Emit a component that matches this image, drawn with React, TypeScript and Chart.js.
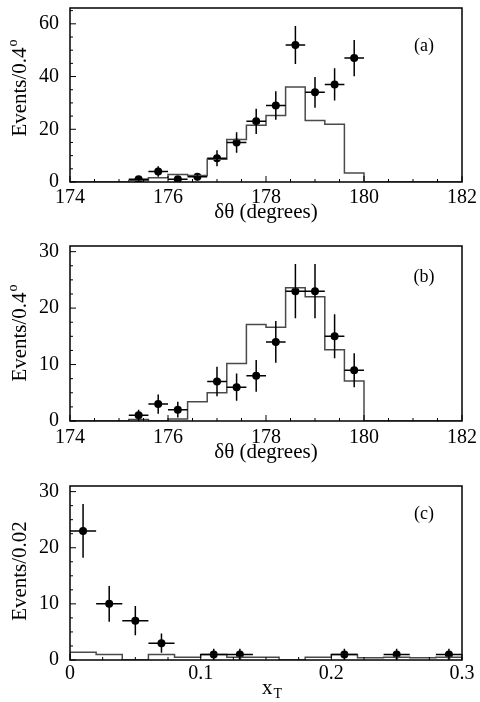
import { useEffect, useRef } from "react";
import { Chart, registerables } from "chart.js";

Chart.register(...registerables);

const FONT = "'Liberation Serif', 'Times New Roman', serif";

// ---- panel (a) ----
const edgesA = [175.2, 175.6, 176.0, 176.4, 176.8, 177.2, 177.6, 178.0, 178.4, 178.8, 179.2, 179.6, 180.0];
const histA = [0.6, 1.6, 2.8, 2.5, 8.6, 16.1, 21.5, 25.2, 36.0, 23.3, 21.9, 3.4];
const ptsXA = [175.4, 175.8, 176.2, 176.6, 177.0, 177.4, 177.8, 178.2, 178.6, 179.0, 179.4, 179.8];
const ptsYA = [1, 4, 1, 2, 9, 15, 23, 29, 52, 34, 37, 47];
const errA = [1, 2, 1, 1.4, 3, 3.9, 4.8, 5.4, 7.2, 5.8, 6.1, 6.9];
const xTicksA = [174, 176, 178, 180, 182];
const yTicksA = [0, 20, 40, 60];

// ---- panel (b) ----
const edgesB = [175.2, 175.6, 176.0, 176.4, 176.8, 177.2, 177.6, 178.0, 178.4, 178.8, 179.2, 179.6, 180.0];
const histB = [0.25, 0, 0.35, 3.4, 5.0, 10.2, 17.1, 16.6, 23.6, 22.0, 12.6, 7.1];
const ptsXB = [175.4, 175.8, 176.2, 177.0, 177.4, 177.8, 178.2, 178.6, 179.0, 179.4, 179.8];
const ptsYB = [1, 3, 2, 7, 6, 8, 14, 23, 23, 15, 9];
const errB = [1, 1.7, 1.4, 2.6, 2.4, 2.8, 3.7, 4.8, 4.8, 3.9, 3];
const xTicksB = [174, 176, 178, 180, 182];
const yTicksB = [0, 10, 20, 30];

// ---- panel (c) ----
const edgesC = [0, 0.02, 0.04, 0.06, 0.08, 0.1, 0.12, 0.14, 0.16, 0.18, 0.2, 0.22, 0.24, 0.26, 0.28, 0.3];
const histC = [1.4, 1.0, 0, 1.0, 0.5, 1.0, 0.5, 0.5, 0, 0.5, 1.0, 0.4, 0.5, 0.4, 0.5];
const ptsXC = [0.01, 0.03, 0.05, 0.07, 0.11, 0.13, 0.21, 0.25, 0.29];
const ptsYC = [23, 10, 7, 3, 1, 1, 1, 1, 1];
const errC = [4.8, 3.2, 2.6, 1.7, 1, 1, 1, 1, 1];
const xTicksC = [0, 0.1, 0.2, 0.3];
const yTicksC = [0, 10, 20, 30];

type PanelDef = {
  id: string;
  top: number;
  height: number;
  areaTop: number;
  areaBottom: number;
  xMin: number;
  xMax: number;
  yMax: number;
  xMinor: number;
  yMinor: number;
  xTicks: number[];
  yTicks: number[];
  edges: number[];
  hist: number[];
  px: number[];
  py: number[];
  ey: number[];
  ex: number;
  yTitle: string;
  ySup: string;
  yTitleY: number;
  xTitle: string;
  xSub: string;
  xTitleY: number;
  tickPad: number;
  label: string;
  labelY: number;
};

const panels: PanelDef[] = [
  {
    id: "a", top: 0, height: 232, areaTop: 8, areaBottom: 182,
    xMin: 174, xMax: 182, yMax: 66, xMinor: 0.5, yMinor: 5,
    xTicks: xTicksA, yTicks: yTicksA, edges: edgesA, hist: histA,
    px: ptsXA, py: ptsYA, ey: errA, ex: 0.2,
    yTitle: "Events/0.4", ySup: "o", yTitleY: 88,
    xTitle: "δθ (degrees)", xSub: "", xTitleY: 212, tickPad: 4,
    label: "(a)", labelY: 46,
  },
  {
    id: "b", top: 232, height: 236, areaTop: 246, areaBottom: 421,
    xMin: 174, xMax: 182, yMax: 31, xMinor: 0.5, yMinor: 2.5,
    xTicks: xTicksB, yTicks: yTicksB, edges: edgesB, hist: histB,
    px: ptsXB, py: ptsYB, ey: errB, ex: 0.2,
    yTitle: "Events/0.4", ySup: "o", yTitleY: 333,
    xTitle: "δθ (degrees)", xSub: "", xTitleY: 452, tickPad: 5,
    label: "(b)", labelY: 277,
  },
  {
    id: "c", top: 468, height: 234, areaTop: 486, areaBottom: 660,
    xMin: 0, xMax: 0.3, yMax: 31, xMinor: 0.025, yMinor: 2.5,
    xTicks: xTicksC, yTicks: yTicksC, edges: edgesC, hist: histC,
    px: ptsXC, py: ptsYC, ey: errC, ex: 0.01,
    yTitle: "Events/0.02", ySup: "", yTitleY: 571,
    xTitle: "x", xSub: "T", xTitleY: 688, tickPad: 2,
    label: "(c)", labelY: 514,
  },
];

// frame, inward ticks, error bars and the text ROOT-style
const hepPlugin = {
  id: "hep",
  afterDatasetsDraw(chart: any, _args: any, o: any) {
    const { ctx, chartArea: ar } = chart;
    const xs = chart.scales.x;
    const ys = chart.scales.y;
    ctx.save();
    ctx.strokeStyle = "#000";
    ctx.fillStyle = "#000";

    // error bars
    ctx.lineWidth = 1.5;
    ctx.beginPath();
    o.px.forEach((xv: number, i: number) => {
      const cx = xs.getPixelForValue(xv);
      const cy = ys.getPixelForValue(o.py[i]);
      ctx.moveTo(xs.getPixelForValue(xv - o.ex), cy);
      ctx.lineTo(xs.getPixelForValue(xv + o.ex), cy);
      ctx.moveTo(cx, ys.getPixelForValue(o.py[i] + o.ey[i]));
      ctx.lineTo(cx, ys.getPixelForValue(Math.max(0, o.py[i] - o.ey[i])));
    });
    ctx.stroke();

    // frame
    ctx.lineWidth = 1.5;
    ctx.strokeRect(ar.left, ar.top, ar.right - ar.left, ar.bottom - ar.top);

    // ticks
    const isMajor = (list: number[], v: number) => list.some((t) => Math.abs(t - v) < 1e-6);
    ctx.lineWidth = 1;
    ctx.beginPath();
    for (let k = 0; ; k++) {
      const v = o.xMin + k * o.xMinor;
      if (v > o.xMax + 1e-9) break;
      const p = xs.getPixelForValue(v);
      ctx.moveTo(p, ar.bottom);
      ctx.lineTo(p, ar.bottom - (isMajor(o.xTicks, v) ? 6 : 3));
    }
    for (let k = 0; ; k++) {
      const v = k * o.yMinor;
      if (v > o.yMax + 1e-9) break;
      const p = ys.getPixelForValue(v);
      ctx.moveTo(ar.left, p);
      ctx.lineTo(ar.left + (isMajor(o.yTicks, v) ? 6 : 3), p);
    }
    ctx.stroke();

    // y title, rotated, with optional superscript
    ctx.textBaseline = "middle";
    ctx.textAlign = "left";
    ctx.save();
    ctx.translate(20, o.yTitleY);
    ctx.rotate(-Math.PI / 2);
    ctx.font = `21px ${FONT}`;
    const w1 = ctx.measureText(o.yTitle).width;
    ctx.font = `14px ${FONT}`;
    const w2 = o.ySup ? ctx.measureText(o.ySup).width + 1 : 0;
    const x0 = -(w1 + w2) / 2;
    ctx.font = `21px ${FONT}`;
    ctx.fillText(o.yTitle, x0, 0);
    if (o.ySup) {
      ctx.font = `14px ${FONT}`;
      ctx.fillText(o.ySup, x0 + w1 + 1, -7);
    }
    ctx.restore();

    // x title with optional subscript
    const cxT = (ar.left + ar.right) / 2;
    ctx.font = `21px ${FONT}`;
    const t1 = ctx.measureText(o.xTitle).width;
    ctx.font = `14px ${FONT}`;
    const t2 = o.xSub ? ctx.measureText(o.xSub).width + 1 : 0;
    const tx = cxT - (t1 + t2) / 2 + (o.xSub ? 6 : 0);
    ctx.font = `21px ${FONT}`;
    ctx.fillText(o.xTitle, tx, o.xTitleY);
    if (o.xSub) {
      ctx.font = `14px ${FONT}`;
      ctx.fillText(o.xSub, tx + t1 + 1, o.xTitleY + 6);
    }

    // panel label
    ctx.font = `18px ${FONT}`;
    ctx.textAlign = "center";
    ctx.fillText(o.label, 424, o.labelY);
    ctx.restore();
  },
};

const Panel = ({ p }: { p: PanelDef }) => {
  const canvasRef: any = useRef(null);

  useEffect(() => {
    const ctx = canvasRef.current.getContext("2d");

    const histPoints = [
      { x: p.xMin, y: 0 },
      ...p.hist.map((v, i) => ({ x: p.edges[i], y: v })),
      { x: p.edges[p.edges.length - 1], y: 0 },
      { x: p.xMax, y: 0 },
    ];
    const dataPoints = p.px.map((x, i) => ({ x, y: p.py[i] }));

    const theChart = new Chart(ctx, {
      type: "scatter",
      data: {
        datasets: [
          {
            type: "line",
            data: histPoints,
            stepped: true,
            borderColor: "#4a4a4a",
            borderWidth: 1.5,
            pointRadius: 0,
            fill: false,
          } as any,
          {
            data: dataPoints,
            pointRadius: 4,
            pointBorderWidth: 0,
            backgroundColor: "#000",
            borderColor: "#000",
          },
        ],
      },
      plugins: [hepPlugin],
      options: {
        animation: false,
        responsive: false,
        events: [],
        layout: {
          padding: { left: 0, right: 18, top: p.areaTop - p.top, bottom: 0 },
        },
        plugins: {
          legend: { display: false },
          tooltip: { enabled: false },
          hep: {
            px: p.px, py: p.py, ey: p.ey, ex: p.ex,
            xMin: p.xMin, xMax: p.xMax, yMax: p.yMax,
            xMinor: p.xMinor, yMinor: p.yMinor,
            xTicks: p.xTicks, yTicks: p.yTicks,
            yTitle: p.yTitle, ySup: p.ySup, yTitleY: p.yTitleY - p.top,
            xTitle: p.xTitle, xSub: p.xSub, xTitleY: p.xTitleY - p.top,
            label: p.label, labelY: p.labelY - p.top,
          },
        } as any,
        scales: {
          x: {
            type: "linear",
            min: p.xMin,
            max: p.xMax,
            grid: { display: false, drawTicks: false },
            border: { display: false },
            afterBuildTicks: (s: any) => {
              s.ticks = p.xTicks.map((v) => ({ value: v }));
            },
            afterFit: (s: any) => {
              s.height = p.height - (p.areaBottom - p.top);
              s.paddingLeft = 0;
              s.paddingRight = 0;
            },
            ticks: {
              autoSkip: false,
              maxRotation: 0,
              padding: p.tickPad,
              color: "#000",
              font: { family: FONT, size: 20 },
              callback: (v: any) => `${v}`,
            },
          },
          y: {
            min: 0,
            max: p.yMax,
            grid: { display: false, drawTicks: false },
            border: { display: false },
            afterBuildTicks: (s: any) => {
              s.ticks = p.yTicks.map((v) => ({ value: v }));
            },
            afterFit: (s: any) => {
              s.width = 70;
              s.paddingTop = 0;
              s.paddingBottom = 0;
            },
            ticks: {
              padding: 11,
              color: "#000",
              font: { family: FONT, size: 20 },
              callback: (v: any) => `${v}`,
            },
          },
        },
      },
    });

    return () => {
      theChart.destroy();
    };
  }, [p]);

  return (
    <canvas
      ref={canvasRef}
      width={480}
      height={p.height}
      style={{ position: "absolute", left: 0, top: p.top, width: 480, height: p.height }}
    />
  );
};

export default function App() {
  return (
    <div style={{ position: "absolute", left: 0, top: 0, width: 480, height: 702, background: "#fff" }}>
      {panels.map((p) => (
        <Panel key={p.id} p={p} />
      ))}
    </div>
  );
}
